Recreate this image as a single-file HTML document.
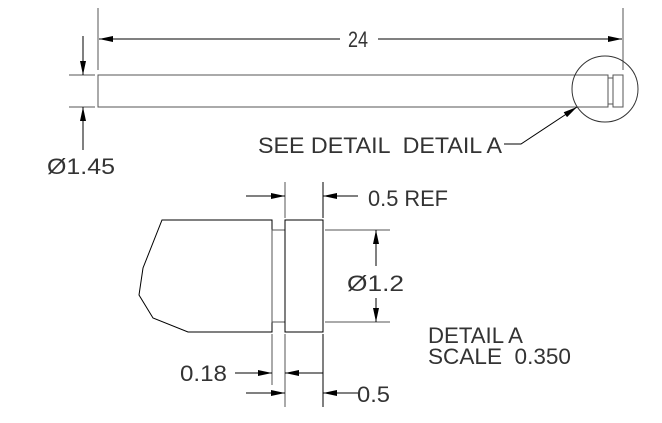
<!DOCTYPE html>
<html><head><meta charset="utf-8"><style>
html,body{margin:0;padding:0;background:#fff;}
svg{display:block;}
text{font-family:"Liberation Sans",sans-serif;font-size:22px;fill:#333;white-space:pre;}
</style></head><body>
<svg width="662" height="423" viewBox="0 0 662 423" xmlns="http://www.w3.org/2000/svg">
<defs>
<marker id="a" viewBox="0 0 14 6" refX="14" refY="3" markerWidth="14" markerHeight="6" markerUnits="userSpaceOnUse" orient="auto"><path d="M0,0 L14,3 L0,6 z" fill="#000"/></marker>
</defs>
<g stroke="#555" stroke-width="1" fill="none">
<line x1="98" y1="8" x2="98" y2="70"/>
<line x1="623" y1="8" x2="623" y2="70"/>
<line x1="340" y1="39" x2="99" y2="39" stroke="#000" marker-end="url(#a)"/>
<line x1="378" y1="39" x2="622" y2="39" stroke="#000" marker-end="url(#a)"/>
<rect x="98" y="75" width="510" height="32"/>
<rect x="608" y="78" width="5" height="26"/>
<rect x="613" y="75" width="10" height="32"/>
<circle cx="605" cy="89" r="33" stroke="#333"/>
<line x1="69" y1="75" x2="95" y2="75"/>
<line x1="69" y1="107" x2="95" y2="107"/>
<line x1="83" y1="36" x2="83" y2="75" stroke="#000" marker-end="url(#a)"/>
<line x1="83" y1="150" x2="83" y2="107" stroke="#000" marker-end="url(#a)"/>
<polyline points="504,144 521,144 577,107" stroke="#000" marker-end="url(#a)"/>
<polygon points="272,220 162,220 143,268 139,295 153,318 188,332 272,332" stroke="#000"/>
<rect x="272" y="230" width="13" height="92"/>
<rect x="285" y="220" width="38" height="112" stroke="#000"/>
<line x1="285" y1="182" x2="285" y2="218"/>
<line x1="323" y1="182" x2="323" y2="218" stroke="#000"/>
<line x1="285" y1="334" x2="285" y2="407"/>
<line x1="323" y1="334" x2="323" y2="407" stroke="#000"/>
<line x1="272" y1="334" x2="272" y2="385"/>
<line x1="246" y1="196" x2="285" y2="196" stroke="#000" marker-end="url(#a)"/>
<line x1="358" y1="196" x2="323" y2="196" stroke="#000" marker-end="url(#a)"/>
<line x1="325" y1="230" x2="390" y2="230"/>
<line x1="325" y1="322" x2="390" y2="322"/>
<line x1="376" y1="266" x2="376" y2="230" stroke="#000" marker-end="url(#a)"/>
<line x1="376" y1="298" x2="376" y2="322" stroke="#000" marker-end="url(#a)"/>
<line x1="235" y1="373" x2="272" y2="373" stroke="#000" marker-end="url(#a)"/>
<line x1="323" y1="373" x2="285" y2="373" stroke="#000" marker-end="url(#a)"/>
<line x1="246" y1="393" x2="285" y2="393" stroke="#000" marker-end="url(#a)"/>
<line x1="358" y1="393" x2="323" y2="393" stroke="#000" marker-end="url(#a)"/>
</g>
<text x="348" y="47" textLength="20" lengthAdjust="spacingAndGlyphs">24</text>
<text x="47" y="174" textLength="68" lengthAdjust="spacingAndGlyphs">Ø1.45</text>
<text x="258" y="153" textLength="244" lengthAdjust="spacingAndGlyphs" xml:space="preserve">SEE DETAIL  DETAIL A</text>
<text x="368" y="206" textLength="80" lengthAdjust="spacingAndGlyphs">0.5 REF</text>
<text x="347" y="291" textLength="57" lengthAdjust="spacingAndGlyphs">Ø1.2</text>
<text x="428" y="343" textLength="95" lengthAdjust="spacingAndGlyphs">DETAIL A</text>
<text x="428" y="364" textLength="143" lengthAdjust="spacingAndGlyphs" xml:space="preserve">SCALE  0.350</text>
<text x="180" y="381" textLength="47" lengthAdjust="spacingAndGlyphs">0.18</text>
<text x="357" y="402" textLength="33" lengthAdjust="spacingAndGlyphs">0.5</text>
</svg>
</body></html>
